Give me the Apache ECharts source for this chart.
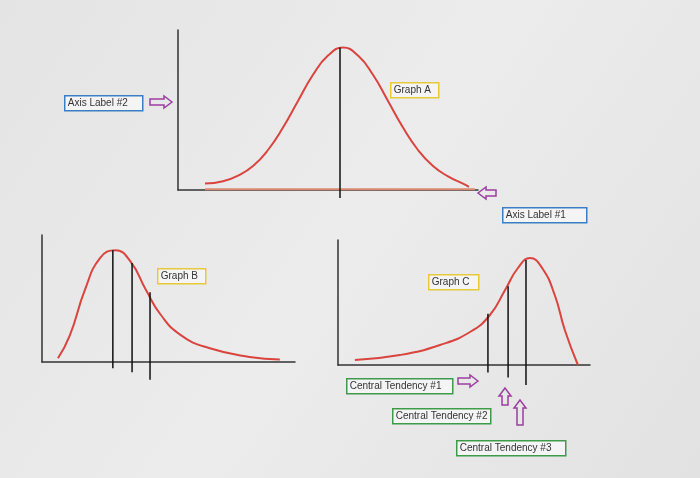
<!DOCTYPE html>
<html>
<head>
<meta charset="utf-8">
<script src="https://cdn.jsdelivr.net/npm/echarts@6/dist/echarts.min.js"></script>
<style>
  html, body { margin: 0; padding: 0; }
  #chart { width: 700px; height: 478px; }
</style>
</head>
<body>
<div id="chart"></div>
<script>
// curve points per graph, in each graph's own 0-100 units
var curveA = [[9,4],[15,5.5],[20,9],[25,15],[30,25],[35,39],[40,55.6],[45,72],[50,84],[55,89],
              [60,84],[65,72],[70,55.6],[75,39],[80,25],[85,15],[90,8.5],[95,4],[97,2]];
var curveB = [[6.3,3],[11,21],[17,57],[23,82],[29,88],[35,79],[41,57],[47,37],[55,21],[66,11],[82,4],[94,2]];
var curveC = [[6.7,4],[24.6,8],[40.5,16],[52.4,26.4],[60.3,40],[66.3,60],[71.4,77.6],[76.2,85.6],
              [81,77.6],[86,56],[90,28],[95.2,0]];
// vertical lines: [x, top, bottom]
var linesA = [[54,89,-5]];
var linesB = [[28,88,-5],[35.6,78,-8],[42.7,55,-14]];
var linesC = [[59.5,41,-6],[67.5,63,-10],[74.6,84,-16]];
var baselineA = [[9,0.5],[99,0.5]];

var grids = [
  {left: 178, top: 30, width: 300, height: 160},
  {left: 42, top: 235, width: 253, height: 127},
  {left: 338, top: 240, width: 252, height: 125}
];

var xAxes = grids.map(function (g, i) {
  return {gridIndex: i, type: 'value', min: 0, max: 100, axisLine: {show: true, lineStyle: {color: '#333', width: 1.5}},
    axisTick: {show: false}, axisLabel: {show: false}, splitLine: {show: false}};
});
var yAxes = grids.map(function (g, i) {
  return {gridIndex: i, type: 'value', min: 0, max: 100, axisLine: {show: true, lineStyle: {color: '#333', width: 1.5}},
    axisTick: {show: false}, axisLabel: {show: false}, splitLine: {show: false}};
});

var series = [];
function addCurve(data, i) {
  series.push({type: 'line', xAxisIndex: i, yAxisIndex: i, data: data, smooth: true, symbol: 'none',
    lineStyle: {color: '#d9443f', width: 2}, clip: false, z: 3});
}
function addLines(lines, i) {
  lines.forEach(function (l) {
    series.push({type: 'line', xAxisIndex: i, yAxisIndex: i, data: [[l[0], l[1]], [l[0], l[2]]], symbol: 'none',
      lineStyle: {color: '#111', width: 1.5}, clip: false, z: 4});
  });
}
series.push({type: 'line', xAxisIndex: 0, yAxisIndex: 0, data: baselineA, symbol: 'none',
  lineStyle: {color: '#d98a70', width: 2}, clip: false, z: 2});
addCurve(curveA, 0); addCurve(curveB, 1); addCurve(curveC, 2);
addLines(linesA, 0); addLines(linesB, 1); addLines(linesC, 2);

function box(x, y, w, text, color) {
  return {type: 'group', left: x, top: y, children: [
    {type: 'rect', shape: {x: 0, y: 0, width: w, height: 15}, style: {fill: '#f4f4f4', stroke: color, lineWidth: 1.5}},
    {type: 'text', x: 3, y: 2, style: {text: text, fill: '#333', font: '10px "Liberation Sans"'}}
  ]};
}
function arrow(x, y, dir, len) {
  // dir: 'right', 'left', 'up'; (x,y) = tip
  var h = 6, s = 3, hl = 8, p;
  if (dir === 'right') p = [[x,y],[x-hl,y-h],[x-hl,y-s],[x-len,y-s],[x-len,y+s],[x-hl,y+s],[x-hl,y+h]];
  else if (dir === 'left') p = [[x,y],[x+hl,y-h],[x+hl,y-s],[x+len,y-s],[x+len,y+s],[x+hl,y+s],[x+hl,y+h]];
  else p = [[x,y],[x-h,y+hl],[x-s,y+hl],[x-s,y+len],[x+s,y+len],[x+s,y+hl],[x+h,y+hl]];
  return {type: 'polygon', shape: {points: p}, style: {fill: 'none', stroke: '#9b3fa0', lineWidth: 1.5}};
}

var chart = echarts.init(document.getElementById('chart'));
chart.setOption({
  backgroundColor: new echarts.graphic.LinearGradient(0, 0, 1, 1, [
    {offset: 0, color: '#e4e4e4'}, {offset: 0.5, color: '#ececec'}, {offset: 1, color: '#e2e2e2'}]),
  animation: false,
  grid: grids,
  xAxis: xAxes,
  yAxis: yAxes,
  series: series,
  graphic: [
    box(64, 95, 78, 'Axis Label #2', '#3a7fc4'),
    box(502, 207, 84, 'Axis Label #1', '#3a7fc4'),
    box(390, 82, 48, 'Graph A', '#e8c93a'),
    box(157, 268, 48, 'Graph B', '#e8c93a'),
    box(428, 274, 50, 'Graph C', '#e8c93a'),
    box(346, 378, 106, 'Central Tendency #1', '#3f9a4a'),
    box(392, 408, 98, 'Central Tendency #2', '#3f9a4a'),
    box(456, 440, 109, 'Central Tendency #3', '#3f9a4a'),
    arrow(172, 102, 'right', 22),
    arrow(478, 193, 'left', 18),
    arrow(478, 381, 'right', 20),
    arrow(505, 388, 'up', 17),
    arrow(520, 400, 'up', 25)
  ]
});
</script>
</body>
</html>
